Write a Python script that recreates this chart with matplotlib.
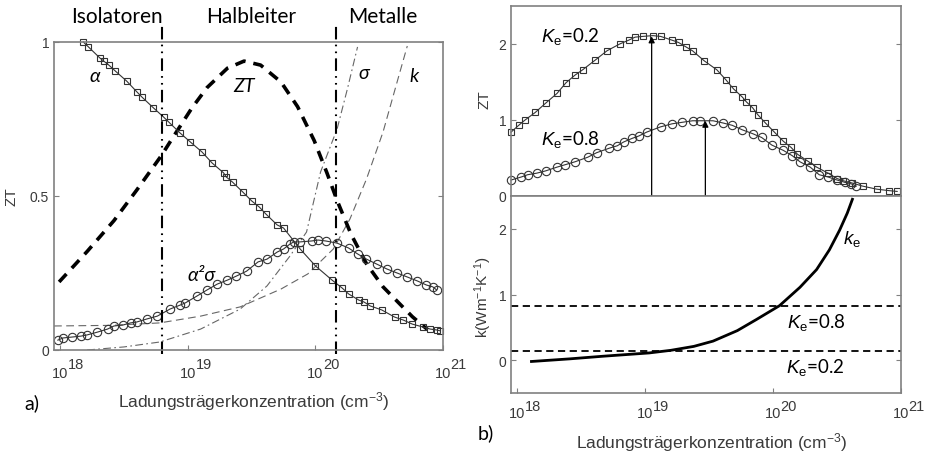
import matplotlib
matplotlib.use("Agg")
import matplotlib.pyplot as plt
import matplotlib.transforms as mtransforms
import numpy as np

plt.rcParams["font.family"] = ["Liberation Sans", "DejaVu Sans"]
plt.rcParams["mathtext.fontset"] = "custom"
plt.rcParams["mathtext.rm"] = "Liberation Sans"
plt.rcParams["mathtext.it"] = "Liberation Sans:italic"

# ---- data (log10 of carrier concentration, value) ----
# panel a)
alpha_logn = [18.18, 18.22, 18.31, 18.34, 18.38, 18.43, 18.52, 18.60, 18.64, 18.73,
              18.81, 18.85, 18.94, 19.02, 19.11, 19.19, 19.28, 19.30, 19.35, 19.43,
              19.50, 19.56, 19.61, 19.70, 19.75, 19.88, 20.00, 20.13, 20.21, 20.26,
              20.34, 20.38, 20.43, 20.52, 20.62, 20.69, 20.76, 20.84, 20.90, 20.95, 20.98]
alpha_val = [1.000, 0.984, 0.948, 0.938, 0.925, 0.906, 0.873, 0.838, 0.821, 0.786,
             0.756, 0.740, 0.704, 0.675, 0.643, 0.607, 0.575, 0.562, 0.545, 0.513,
             0.484, 0.464, 0.442, 0.406, 0.396, 0.328, 0.273, 0.227, 0.201, 0.182,
             0.162, 0.156, 0.143, 0.130, 0.107, 0.097, 0.084, 0.075, 0.068, 0.065, 0.062]

pf_logn = [17.98, 18.02, 18.09, 18.16, 18.21, 18.29, 18.37, 18.42, 18.49, 18.55,
           18.60, 18.68, 18.76, 18.86, 18.94, 18.98, 19.07, 19.15, 19.23, 19.31,
           19.38, 19.46, 19.55, 19.62, 19.70, 19.75, 19.80, 19.83, 19.88, 19.97,
           20.02, 20.08, 20.17, 20.26, 20.33, 20.40, 20.48, 20.56, 20.64, 20.72,
           20.80, 20.87, 20.92, 20.95]
pf_val = [0.032, 0.039, 0.042, 0.045, 0.049, 0.058, 0.068, 0.078, 0.081, 0.088,
          0.091, 0.101, 0.110, 0.133, 0.146, 0.153, 0.175, 0.195, 0.214, 0.227,
          0.240, 0.256, 0.286, 0.295, 0.318, 0.328, 0.344, 0.351, 0.351, 0.354,
          0.357, 0.354, 0.347, 0.331, 0.312, 0.295, 0.279, 0.263, 0.250, 0.237,
          0.224, 0.211, 0.205, 0.195]

zt_logn = [17.99, 18.21, 18.42, 18.60, 18.79, 18.89, 19.03, 19.15, 19.31, 19.44,
           19.57, 19.73, 19.86, 19.99, 20.09, 20.17, 20.28, 20.40, 20.53, 20.66,
           20.76, 20.88]
zt_val = [0.221, 0.320, 0.420, 0.520, 0.630, 0.695, 0.785, 0.852, 0.915, 0.938,
          0.925, 0.870, 0.790, 0.680, 0.575, 0.485, 0.375, 0.280, 0.205, 0.150,
          0.108, 0.066]

sigma_logn = [18.21, 18.50, 18.78, 19.10, 19.41, 19.62, 19.80, 19.93, 20.04, 20.17, 20.25, 20.33]
sigma_val = [0.000, 0.010, 0.026, 0.068, 0.133, 0.208, 0.305, 0.383, 0.578, 0.718, 0.847, 0.984]

k_logn = [17.95, 18.40, 18.78, 19.10, 19.41, 19.73, 19.94, 20.14, 20.27, 20.40, 20.53, 20.64, 20.72]
k_val = [0.078, 0.080, 0.088, 0.110, 0.140, 0.198, 0.247, 0.328, 0.425, 0.555, 0.708, 0.870, 0.987]

region_bounds = [18.80, 20.16]
region_names = ["Isolatoren", "Halbleiter", "Metalle"]

# panel b)
ke02_logn = [17.95, 18.01, 18.06, 18.14, 18.22, 18.31, 18.38, 18.45, 18.51, 18.61,
             18.70, 18.80, 18.87, 18.92, 18.98, 19.06, 19.12, 19.21, 19.26, 19.32,
             19.37, 19.46, 19.56, 19.63, 19.69, 19.76, 19.79, 19.84, 19.88, 19.94,
             20.01, 20.08, 20.14, 20.19, 20.27, 20.34, 20.43, 20.50, 20.55, 20.62,
             20.70, 20.81, 20.91, 20.97]
ke02_zt = [0.84, 0.93, 1.00, 1.10, 1.22, 1.35, 1.49, 1.59, 1.66, 1.79,
           1.91, 2.00, 2.05, 2.09, 2.10, 2.11, 2.10, 2.05, 2.02, 1.96,
           1.91, 1.78, 1.66, 1.53, 1.41, 1.30, 1.24, 1.16, 1.07, 0.96,
           0.84, 0.72, 0.64, 0.55, 0.46, 0.38, 0.30, 0.23, 0.20, 0.17,
           0.13, 0.09, 0.07, 0.06]

ke08_logn = [17.95, 18.03, 18.08, 18.15, 18.22, 18.31, 18.37, 18.45, 18.55, 18.62,
             18.72, 18.78, 18.83, 18.90, 18.95, 19.01, 19.12, 19.21, 19.29, 19.37,
             19.43, 19.53, 19.61, 19.68, 19.76, 19.84, 19.91, 19.99, 20.08, 20.15,
             20.21, 20.29, 20.36, 20.43, 20.50, 20.56, 20.61, 20.65]
ke08_zt = [0.21, 0.25, 0.28, 0.30, 0.33, 0.38, 0.41, 0.45, 0.51, 0.57,
           0.63, 0.66, 0.71, 0.76, 0.79, 0.84, 0.91, 0.95, 0.97, 0.99,
           0.99, 0.99, 0.96, 0.93, 0.87, 0.82, 0.77, 0.67, 0.60, 0.53,
           0.45, 0.38, 0.28, 0.25, 0.21, 0.18, 0.16, 0.13]

kel_logn = [18.11, 18.41, 18.67, 19.03, 19.20, 19.38, 19.53, 19.72, 19.87, 20.05,
            20.21, 20.34, 20.44, 20.52, 20.58, 20.62]
kel_val = [-0.02, 0.02, 0.06, 0.11, 0.15, 0.21, 0.29, 0.45, 0.62, 0.83,
           1.11, 1.38, 1.68, 1.98, 2.24, 2.45]

ke_levels = [0.83, 0.135]
arrow_logn = [19.05, 19.47]
arrow_from = [0.13, 0.90]   # in k axis
arrow_to = [2.10, 0.99]     # in ZT axis

decades = [18, 19, 20, 21]

XLIM = (10 ** 17.95, 10 ** 21.0)
GRAY = "#808080"
TXT = "#3a3a3a"
ANNO = ["Lato", "DejaVu Sans"]

fig = plt.figure(figsize=(9.35, 4.56), dpi=100)
W, H = 935, 456


def px_axes(x0, y0, x1, y1):
    return fig.add_axes([x0 / W, 1 - y1 / H, (x1 - x0) / W, (y1 - y0) / H])


def style_axes(ax):
    ax.set_xscale("log")
    ax.set_xlim(*XLIM)
    ax.minorticks_off()
    for s in ax.spines.values():
        s.set_color(GRAY)
        s.set_linewidth(1.2)
    ax.tick_params(direction="in", length=3.5, width=0.8, color=GRAY,
                   labelcolor=TXT, labelsize=10, right=True, top=False)
    ax.set_xticks([10.0 ** d for d in decades])
    ax.tick_params(axis="x", labelbottom=False)


def decade_labels(ax, drop_px, raise_px):
    # MATLAB style: base "10" centred on the tick, exponent at full size beside it
    tr = mtransforms.blended_transform_factory(ax.transData, ax.transAxes)
    for d in decades:
        base = tr + mtransforms.ScaledTranslation(0, -drop_px / 100, fig.dpi_scale_trans)
        ax.text(10.0 ** d, 0, "10", transform=base, ha="center", va="baseline",
                fontsize=10.5, color=TXT, clip_on=False)
        sup = tr + mtransforms.ScaledTranslation(7.5 / 100, (-drop_px + raise_px) / 100,
                                                 fig.dpi_scale_trans)
        ax.text(10.0 ** d, 0, str(d), transform=sup, ha="left", va="baseline",
                fontsize=10.5, color=TXT, clip_on=False)


# ---------------- panel a ----------------
ax = px_axes(54, 43, 443, 351)
style_axes(ax)
ax.set_ylim(0, 1)
ax.set_yticks([0, 0.5, 1])
ax.set_yticklabels(["0", "0.5", "1"])
decade_labels(ax, 27, 9)

ax.plot(10 ** np.array(k_logn), k_val, color="#666666", lw=0.8, ls=(0, (7, 4)))
ax.plot(10 ** np.array(sigma_logn), sigma_val, color="#666666", lw=0.8,
        ls=(0, (7, 3, 1.5, 3)))
ax.plot(10 ** np.array(zt_logn), zt_val, color="black", lw=2.6, ls=(0, (3, 2.2)))
ax.plot(10 ** np.array(alpha_logn), alpha_val, color="#333333", lw=0.8, marker="s",
        ms=4.8, mfc="none", mec="#333333", mew=0.8, clip_on=False)
ax.plot(10 ** np.array(pf_logn), pf_val, color="#333333", lw=0.8, marker="o",
        ms=6, mfc="none", mec="#333333", mew=0.8, clip_on=False)

for b in region_bounds:
    ax.axvline(10 ** b, ymin=-0.013, ymax=1.052, clip_on=False, color="black",
               lw=1.5, ls=(0, (6, 2.5, 0.8, 2.5, 0.8, 2.5)))

anno_kw = dict(fontsize=14, family=ANNO, style="italic", ha="center", va="center")
ax.text(10 ** 18.27, 0.89, "α", **anno_kw)
ax.text(10 ** 19.44, 0.86, "ZT", **anno_kw)
ax.text(10 ** 20.38, 0.90, "σ", **anno_kw)
ax.text(10 ** 20.77, 0.89, "k", **anno_kw)
ax.text(10 ** 19.11, 0.245, "α²σ", **anno_kw)

for name, xp in zip(region_names, [117, 251, 383]):
    fig.text(xp / W, 1 - 17 / H, name, fontsize=15, family=ANNO, ha="center", va="center")

fig.text(11 / W, 1 - 197 / H, "ZT", rotation=90, fontsize=11, color=TXT,
         ha="center", va="center")
fig.text(254 / W, 1 - 402 / H, r"Ladungsträgerkonzentration (cm$^{-3}$)", fontsize=12.5,
         color=TXT, ha="center", va="center")
fig.text(32 / W, 1 - 403 / H, "a)", fontsize=14, family=ANNO, ha="center", va="center")

# ---------------- panel b ----------------
axt = px_axes(511, 7, 901, 197)
axb = px_axes(511, 197, 901, 394)
for a in (axt, axb):
    style_axes(a)
axt.set_ylim(0, 2.5)
axt.set_yticks([0, 1, 2])
axt.tick_params(axis="x", bottom=False)
axb.set_ylim(-0.5, 2.5)
axb.set_yticks([0, 1, 2])
decade_labels(axb, 24, 7)

axt.plot(10 ** np.array(ke02_logn), ke02_zt, color="#333333", lw=0.8, marker="s",
         ms=5, mfc="none", mec="#333333", mew=0.8, clip_on=False)
axt.plot(10 ** np.array(ke08_logn), ke08_zt, color="#333333", lw=0.8, marker="o",
         ms=6, mfc="none", mec="#333333", mew=0.8, clip_on=False)

axb.plot(10 ** np.array(kel_logn), kel_val, color="black", lw=2.0)
for lev in ke_levels:
    axb.axhline(lev, color="black", lw=1.3, ls=(0, (4, 2.5)))

for xl, y0, y1 in zip(arrow_logn, arrow_from, arrow_to):
    axt.annotate("", xy=(10 ** xl, y1), xycoords="data",
                 xytext=(10 ** xl, y0), textcoords=axb.transData,
                 arrowprops=dict(arrowstyle="-|>", color="black", lw=0.9,
                                 mutation_scale=9, shrinkA=0, shrinkB=0),
                 annotation_clip=False)

ke_kw = dict(fontsize=13.5, family=ANNO, ha="center", va="center")
axt.text(10 ** 18.41, 2.11, r"$\mathit{K}_{\mathrm{e}}$=0.2", **ke_kw)
axt.text(10 ** 18.41, 0.75, r"$\mathit{K}_{\mathrm{e}}$=0.8", **ke_kw)
axb.text(10 ** 20.34, 0.59, r"$\mathit{K}_{\mathrm{e}}$=0.8", **ke_kw)
axb.text(10 ** 20.33, -0.10, r"$\mathit{K}_{\mathrm{e}}$=0.2", **ke_kw)
axb.text(10 ** 20.62, 1.86, r"$\mathit{k}_{\mathrm{e}}$", **ke_kw)

fig.text(485 / W, 1 - 100 / H, "ZT", rotation=90, fontsize=11, color=TXT,
         ha="center", va="center")
fig.text(483 / W, 1 - 297 / H, r"k(Wm$^{-1}$K$^{-1}$)", rotation=90, fontsize=11,
         color=TXT, ha="center", va="center")
fig.text(712 / W, 1 - 443 / H, r"Ladungsträgerkonzentration (cm$^{-3}$)", fontsize=12.5,
         color=TXT, ha="center", va="center")
fig.text(486 / W, 1 - 433 / H, "b)", fontsize=14, family=ANNO, ha="center", va="center")

fig.savefig("out.png", dpi=100)
